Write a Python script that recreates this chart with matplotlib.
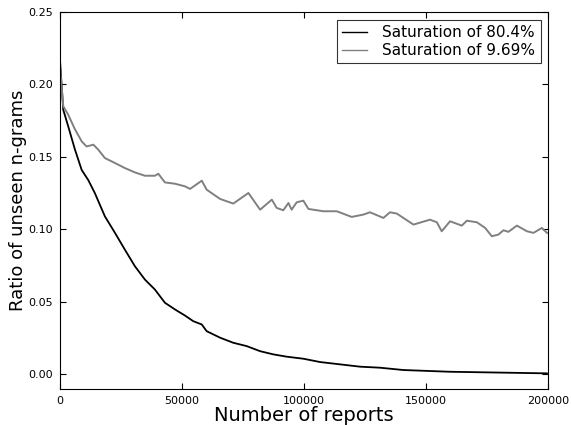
import numpy as np
import matplotlib
matplotlib.use("Agg")
import matplotlib.pyplot as plt

# saturation 80.4% (black)
x_hi = [0, 1350, 3400, 6150, 8900, 11600, 14300, 18400, 22500, 26600, 30700,
        34800, 38900, 43000, 47100, 51200, 54600, 58100, 60100, 65600, 71000,
        76500, 82000, 87400, 92900, 99700, 106600, 114800, 123000, 131100,
        140700, 159800, 199500]
y_hi = [0.217, 0.1825, 0.171, 0.155, 0.141, 0.134, 0.125, 0.109, 0.0977, 0.086,
        0.0746, 0.0654, 0.0585, 0.0494, 0.0448, 0.0406, 0.0367, 0.0344, 0.0298,
        0.0253, 0.0218, 0.0195, 0.016, 0.0138, 0.0122, 0.0108, 0.0085, 0.0069,
        0.0053, 0.0046, 0.003, 0.0018, 0.0007]

# saturation 9.69% (grey)
x_lo = [0, 1350, 3400, 6150, 8900, 10900, 13700, 15700, 18400, 22500, 26600,
        30700, 34800, 38900, 40300, 43000, 47100, 51200, 53300, 58100, 60100,
        65600, 71000, 77200, 82000, 86800, 88800, 91500, 93600, 94900, 97000,
        99700, 101800, 107900, 113400, 119500, 124300, 127000, 132500, 135200,
        138000, 144800, 151600, 154400, 156400, 159800, 164600, 166700, 170800,
        174200, 176900, 179600, 181700, 183700, 187200, 191300, 194000, 197400,
        199500]
y_lo = [0.212, 0.185, 0.179, 0.169, 0.1607, 0.1572, 0.1584, 0.155, 0.1492,
        0.1458, 0.1423, 0.1393, 0.137, 0.137, 0.1384, 0.1324, 0.1315, 0.1297,
        0.1279, 0.1336, 0.1274, 0.121, 0.1178, 0.1251, 0.1136, 0.1205, 0.1148,
        0.1132, 0.1182, 0.1136, 0.1187, 0.1198, 0.1141, 0.1125, 0.1125, 0.1086,
        0.1102, 0.1118, 0.1079, 0.1118, 0.1109, 0.1033, 0.1067, 0.1049, 0.0987,
        0.1056, 0.1026, 0.106, 0.1049, 0.101, 0.0953, 0.0964, 0.0994, 0.0983,
        0.1026, 0.0987, 0.0976, 0.101, 0.0976]

fig = plt.figure(figsize=(5.71, 4.25), dpi=100)
ax = fig.add_axes([0.105, 0.085, 0.855, 0.887])
ax.plot(x_hi, y_hi, color="black", lw=1.3, label="Saturation of 80.4%")
ax.plot(x_lo, y_lo, color="#808080", lw=1.4, label="Saturation of 9.69%")

ax.set_xlim(0, 200000)
ax.set_ylim(-0.01, 0.25)
ax.set_xticks([0, 50000, 100000, 150000, 200000])
ax.set_yticks([0.0, 0.05, 0.10, 0.15, 0.20, 0.25])
ax.set_yticklabels(["0.00", "0.05", "0.10", "0.15", "0.20", "0.25"])
ax.tick_params(direction="in", top=True, right=True, labelsize=8, length=4, pad=5)
ax.set_xlabel("Number of reports", fontsize=14, labelpad=0)
ax.set_ylabel("Ratio of unseen n-grams", fontsize=13, labelpad=1)

leg = ax.legend(loc="upper right", fontsize=11, frameon=True, fancybox=False,
                borderaxespad=0.5, handlelength=1.6, handletextpad=1.0,
                borderpad=0.35, labelspacing=0.2)
leg.get_frame().set_edgecolor("black")
leg.get_frame().set_linewidth(0.8)
for h in leg.get_lines():
    h.set_linewidth(1.0)

fig.savefig("out.png", dpi=100)
